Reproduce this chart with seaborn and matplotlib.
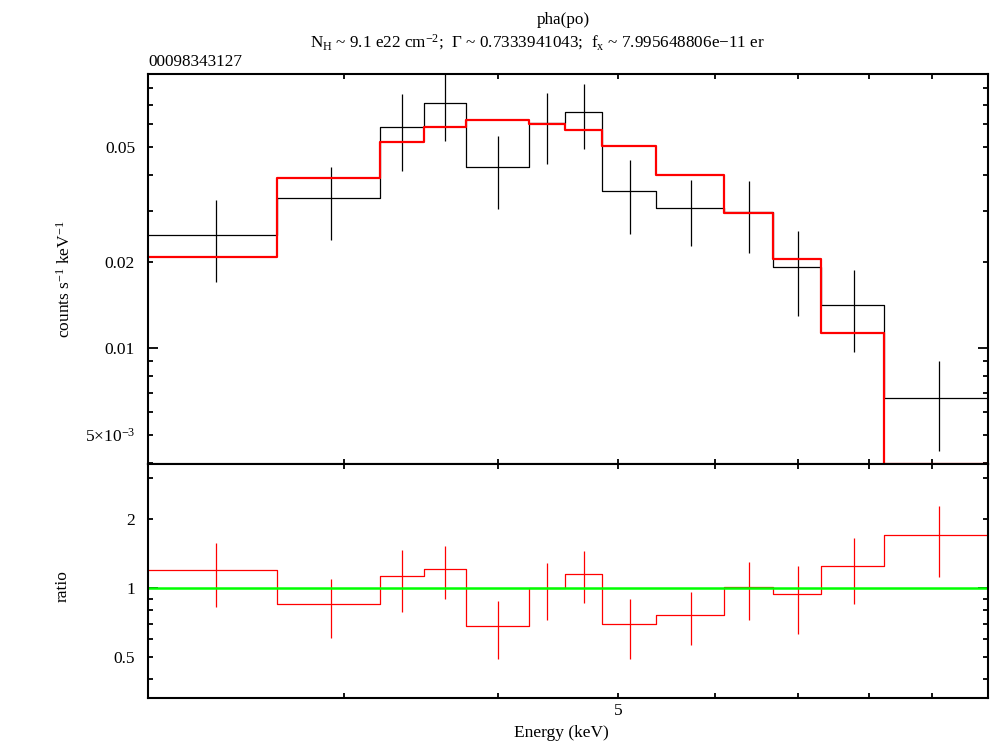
import numpy as np
import pandas as pd
import matplotlib
matplotlib.use("Agg")
import matplotlib.pyplot as plt
import seaborn as sns
from matplotlib.ticker import FixedLocator, FuncFormatter, NullFormatter

# ---- data ----
edges = [2.077, 2.647, 3.208, 3.479, 3.768, 4.232, 4.532, 4.858, 5.371,
         6.101, 6.687, 7.306, 8.226, 9.978]
rate = [0.02484, 0.03332, 0.05875, 0.07124, 0.04262, 0.06052, 0.06611,
        0.03508, 0.03060, 0.02971, 0.01921, 0.01416, 0.00669]
rate_err = [0.0078, 0.0095, 0.0175, 0.0187, 0.0121, 0.0168, 0.0169,
            0.0102, 0.0079, 0.0083, 0.0063, 0.0045, 0.0023]
model = [0.02070, 0.03911, 0.05222, 0.05888, 0.06229, 0.06032, 0.05733,
         0.05044, 0.03997, 0.02940, 0.02037, 0.01131, 0.00394]

title1 = "pha(po)"
title2 = (r"N$_{\mathrm{H}}$ ~ 9.1 e22 cm$^{-2}$;  Γ ~ 0.7333941043;  "
          r"f$_{\mathrm{x}}$ ~ 7.995648806e−11 er")
obs_id = "00098343127"

top_minor = [0.004, 0.005, 0.006, 0.007, 0.008, 0.009,
             0.02, 0.03, 0.04, 0.05, 0.06, 0.07, 0.08, 0.09]
top_labels = {0.005: r"5$\times$10$^{-3}$", 0.02: "0.02", 0.05: "0.05"}
ratio_minor = [0.4, 0.5, 0.6, 0.7, 0.8, 0.9, 2, 3]
ratio_labels = {0.5: "0.5", 2: "2"}
x_minor = [3, 4, 6, 7, 8, 9]

# ---- derived arrays ----
edges_a = np.array(edges)
centers = 0.5 * (edges_a[:-1] + edges_a[1:])
rate_a = np.array(rate)
err_a = np.array(rate_err)
model_a = np.array(model)
ratio = rate_a / model_a
ratio_err = err_a / model_a

step_df = pd.DataFrame({
    "E": edges_a,
    "rate": np.append(rate_a, rate_a[-1]),
    "model": np.append(model_a, model_a[-1]),
    "ratio": np.append(ratio, ratio[-1]),
})

sns.set_theme(style="ticks")
plt.rcParams["font.family"] = ["Liberation Serif", "DejaVu Serif"]
plt.rcParams["mathtext.fontset"] = "custom"
plt.rcParams["mathtext.rm"] = "Liberation Serif"
plt.rcParams["mathtext.it"] = "Liberation Serif:italic"
plt.rcParams["mathtext.bf"] = "Liberation Serif:bold"
FS = 12.5
TFS = 12.3

fig = plt.figure(figsize=(9.9, 7.42), dpi=100)
L, R = 147.5 / 990, 987.7 / 990
ax1 = fig.add_axes([L, 1 - 463.5 / 742, R - L, (463.5 - 74.3) / 742])
ax2 = fig.add_axes([L, 1 - 697.7 / 742, R - L, (697.7 - 463.5) / 742], sharex=ax1)

# top panel: data steps, error bars, model
sns.lineplot(data=step_df, x="E", y="rate", ax=ax1, color="black", lw=0.9,
             drawstyle="steps-post", estimator=None, sort=False)
ax1.errorbar(centers, rate_a, yerr=err_a, fmt="none", ecolor="black",
             elinewidth=0.9, capsize=0)
sns.lineplot(data=step_df, x="E", y="model", ax=ax1, color="#ff0000", lw=1.6,
             drawstyle="steps-post", estimator=None, sort=False, clip_on=False)

# bottom panel: ratio
sns.lineplot(data=step_df, x="E", y="ratio", ax=ax2, color="#ff0000", lw=0.9,
             drawstyle="steps-post", estimator=None, sort=False)
ax2.errorbar(centers, ratio, yerr=ratio_err, fmt="none", ecolor="#ff0000",
             elinewidth=0.9, capsize=0)
ax2.axhline(1.0, color="#00ff00", lw=1.8)

for ax in (ax1, ax2):
    ax.set_xscale("log")
    ax.set_yscale("log")
    for s in ax.spines.values():
        s.set_linewidth(1.5)
        s.set_color("black")
        s.set_visible(True)
    ax.tick_params(which="both", direction="in", top=True, right=True,
                   color="black", width=1.3, labelsize=FS, labelcolor="black")
    ax.tick_params(which="major", length=7.5, pad=9)
    ax.tick_params(which="minor", length=3.8, pad=9)
    ax.set_ylabel("")
    ax.set_xlabel("")

ax1.set_xlim(edges[0], edges[-1])
ax1.set_ylim(0.00397, 0.0896)
ax2.set_ylim(0.3332, 3.486)

# x ticks
ax1.xaxis.set_major_locator(FixedLocator([5]))
ax1.xaxis.set_minor_locator(FixedLocator(x_minor))
ax1.tick_params(axis="x", which="major", length=3.8)
ax2.tick_params(axis="x", which="major", length=3.8, pad=4)
ax1.xaxis.set_major_formatter(NullFormatter())
ax1.xaxis.set_minor_formatter(NullFormatter())
ax2.xaxis.set_major_formatter(FuncFormatter(lambda v, p: "5"))
ax2.xaxis.set_minor_formatter(NullFormatter())
plt.setp(ax1.get_xticklabels(), visible=False)

# y ticks top
ax1.yaxis.set_major_locator(FixedLocator([0.01]))
ax1.yaxis.set_minor_locator(FixedLocator(top_minor))
ax1.yaxis.set_major_formatter(FuncFormatter(lambda v, p: "0.01"))
ax1.yaxis.set_minor_formatter(FuncFormatter(
    lambda v, p: next((t for k, t in top_labels.items() if abs(v - k) < 1e-9), "")))

# y ticks ratio
ax2.yaxis.set_major_locator(FixedLocator([1]))
ax2.yaxis.set_minor_locator(FixedLocator(ratio_minor))
ax2.yaxis.set_major_formatter(FuncFormatter(lambda v, p: "1"))
ax2.yaxis.set_minor_formatter(FuncFormatter(
    lambda v, p: next((t for k, t in ratio_labels.items() if abs(v - k) < 1e-9), "")))

# axis labels
ax1.set_ylabel(r"counts s$^{-1}$ keV$^{-1}$", fontsize=FS, color="black")
ax1.yaxis.set_label_coords(-0.088, 0.474)
ax2.set_ylabel("ratio", fontsize=FS, color="black")
ax2.yaxis.set_label_coords(-0.092, 0.477)
ax2.set_xlabel("Energy (keV)", fontsize=FS, color="black")
ax2.xaxis.set_label_coords(0.493, -0.115)

# titles
fig.text(563 / 990, 1 - 24 / 742, title1, ha="center", va="baseline",
         fontsize=TFS, color="black")
fig.text(310 / 990, 1 - 47 / 742, title2, ha="left", va="baseline",
         fontsize=TFS, color="black")
fig.text(148 / 990, 1 - 66 / 742, obs_id, ha="left", va="baseline",
         fontsize=TFS, color="black")

fig.savefig("out.png", dpi=100, facecolor="white")
